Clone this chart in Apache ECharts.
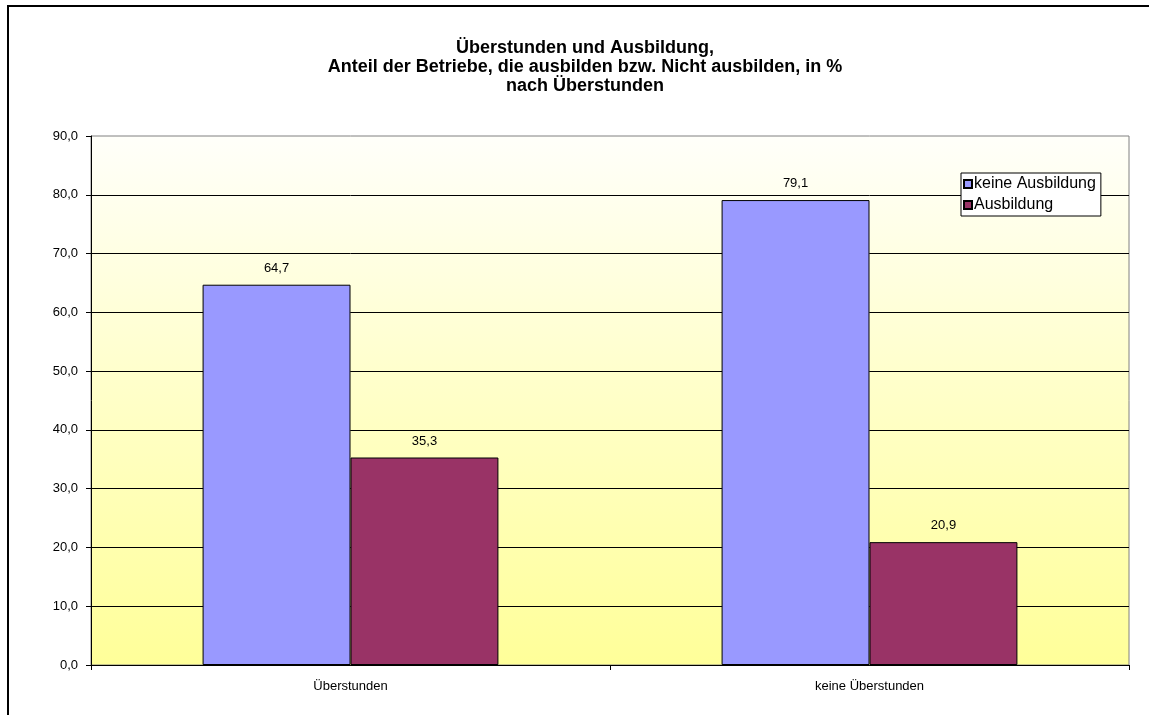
<!DOCTYPE html>
<html>
<head>
<meta charset="utf-8">
<script src="https://cdn.jsdelivr.net/npm/echarts@6/dist/echarts.min.js"></script>
<style>
  html, body { margin: 0; padding: 0; background: #ffffff; }
  #chart { width: 1149px; height: 715px; }
</style>
</head>
<body>
<div id="chart"></div>
<script>
// Categories, series and axis ticks
const categories = ['Überstunden', 'keine Überstunden'];
const keineAusbildung = [64.7, 79.1];
const ausbildung = [35.3, 20.9];
const yTicks = { min: 0, max: 90, interval: 10 };

const titleLines = [
  'Überstunden und Ausbildung,',
  'Anteil der Betriebe, die ausbilden bzw. Nicht ausbilden, in %',
  'nach Überstunden'
];

const FONT = '"Liberation Sans", Arial, sans-serif';
const fmt = v => v.toFixed(1).replace('.', ',');

const chart = echarts.init(document.getElementById('chart'), null, { renderer: 'canvas' });

const barLabel = {
  show: true, position: 'top', distance: 10,
  color: '#000', fontSize: 13, fontFamily: FONT,
  formatter: p => fmt(p.value)
};

chart.setOption({
  animation: false,
  backgroundColor: '#ffffff',
  textStyle: { fontFamily: FONT },
  graphic: [
    {
      // outer chart frame
      type: 'rect', z: -10, silent: true,
      shape: { x: 8, y: 6, width: 1200, height: 800 },
      style: { fill: 'none', stroke: '#000', lineWidth: 2 }
    },
    {
      type: 'text', silent: true,
      x: 585, y: 39,
      style: {
        text: titleLines.join('\n'),
        textAlign: 'center', textVerticalAlign: 'top',
        font: 'bold 18px ' + FONT, lineHeight: 19, fill: '#000'
      }
    }
  ],
  grid: {
    left: 91, right: 20, top: 136, bottom: 50,
    show: true,
    borderColor: '#808080', borderWidth: 1,
    backgroundColor: {
      type: 'linear', x: 0, y: 0, x2: 0, y2: 1,
      colorStops: [
        { offset: 0, color: '#fffffa' },
        { offset: 0.45, color: '#ffffcc' },
        { offset: 1, color: '#ffff99' }
      ]
    }
  },
  legend: {
    orient: 'vertical',
    left: 961, top: 173,
    backgroundColor: '#ffffff',
    borderColor: '#000', borderWidth: 1, borderRadius: 0,
    padding: [3, 5, 3, 2],
    itemWidth: 8, itemHeight: 8, itemGap: 5,
    icon: 'rect',
    textStyle: { fontSize: 16, color: '#000', padding: [0, 0, 0, -3], fontFamily: FONT },
    data: ['keine Ausbildung', 'Ausbildung']
  },
  xAxis: {
    type: 'category',
    data: categories,
    axisLine: { lineStyle: { color: '#000', width: 1 } },
    axisTick: { show: true, alignWithLabel: false, length: 5, lineStyle: { color: '#000' } },
    axisLabel: { color: '#000', fontSize: 13, margin: 15, fontFamily: FONT },
    splitLine: { show: false }
  },
  yAxis: {
    type: 'value',
    min: yTicks.min, max: yTicks.max, interval: yTicks.interval,
    axisLine: { show: true, lineStyle: { color: '#000', width: 1 } },
    axisTick: { show: true, length: 5, lineStyle: { color: '#000' } },
    axisLabel: { color: '#000', fontSize: 13, margin: 13, formatter: fmt, fontFamily: FONT },
    splitLine: { show: true, showMaxLine: false, lineStyle: { color: '#000', width: 1 } }
  },
  series: [
    {
      name: 'keine Ausbildung',
      type: 'bar',
      data: keineAusbildung,
      barGap: '0%',
      barCategoryGap: '43%',
      itemStyle: { color: '#9999ff', borderColor: '#000', borderWidth: 1 },
      label: barLabel
    },
    {
      name: 'Ausbildung',
      type: 'bar',
      data: ausbildung,
      barGap: '0%',
      barCategoryGap: '43%',
      itemStyle: { color: '#993366', borderColor: '#000', borderWidth: 1 },
      label: barLabel
    }
  ]
});
</script>
</body>
</html>
